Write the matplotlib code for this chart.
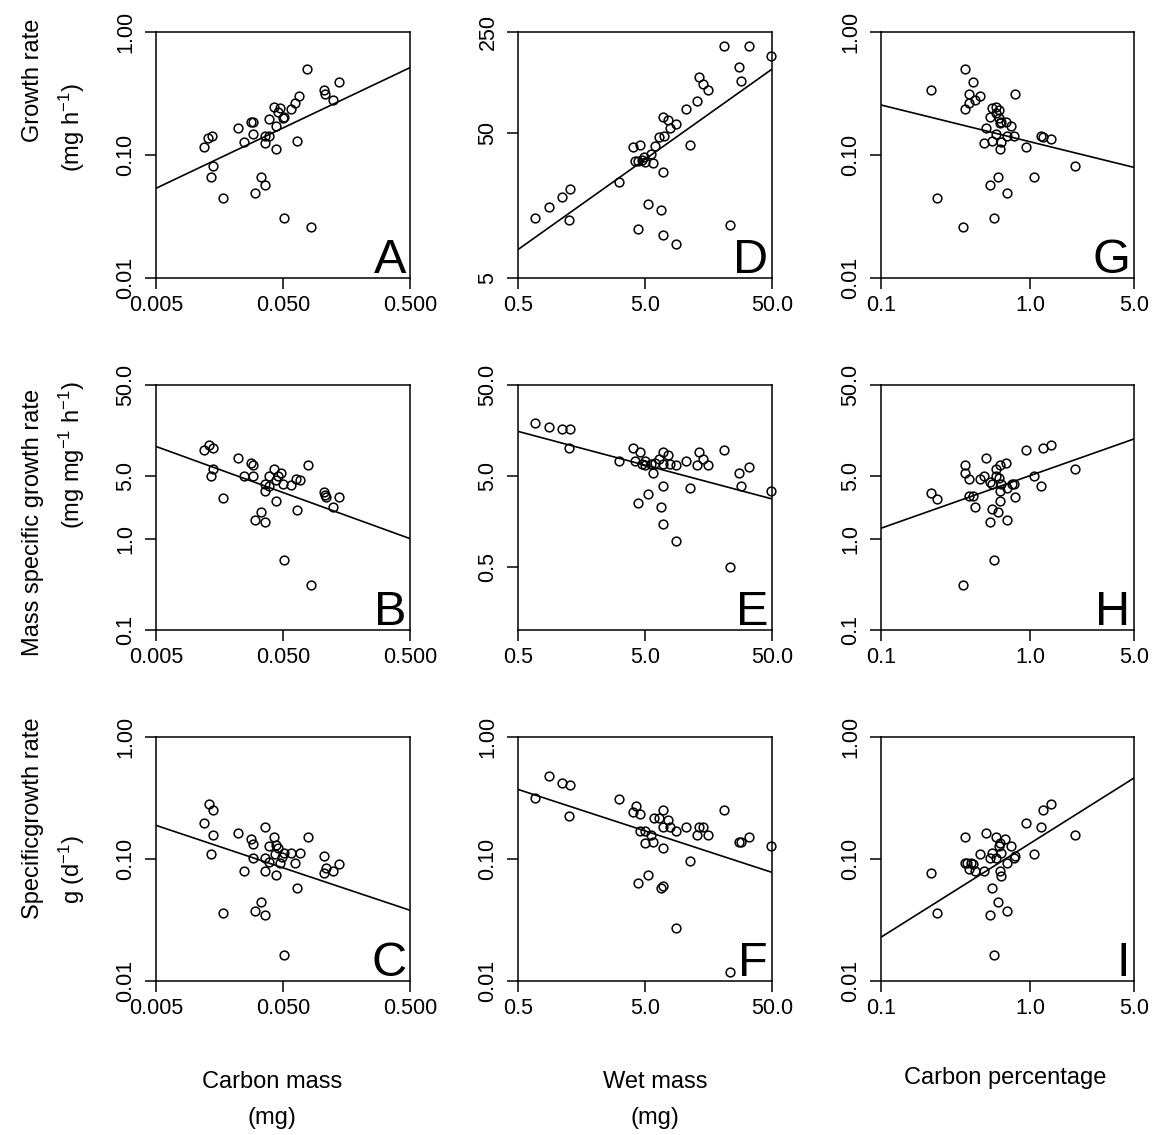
import numpy as np
import matplotlib
matplotlib.use('Agg')
import matplotlib.pyplot as plt
from matplotlib.ticker import FixedLocator, FixedFormatter, NullLocator

plt.rcParams['font.family'] = ['Liberation Sans', 'DejaVu Sans']
plt.rcParams['mathtext.fontset'] = 'custom'
plt.rcParams['mathtext.rm'] = 'Liberation Sans'

# --- data (mg, mg h-1, % etc.) ---
# column 1: carbon mass
A_x = [0.0778, 0.138, 0.105, 0.108, 0.123, 0.0673, 0.0618, 0.0574, 0.0512, 0.0497, 0.0423, 0.0473,
       0.0459, 0.039, 0.028, 0.0288, 0.0221, 0.044, 0.0288, 0.036, 0.0388, 0.0139, 0.0128, 0.012,
       0.0248, 0.036, 0.0644, 0.0438, 0.014, 0.0135, 0.0337, 0.0363, 0.0299, 0.0169, 0.0509, 0.0835]
A_y = [0.50, 0.395, 0.338, 0.311, 0.278, 0.302, 0.265, 0.235, 0.205, 0.199, 0.247, 0.240,
       0.225, 0.195, 0.187, 0.187, 0.167, 0.173, 0.147, 0.143, 0.143, 0.143, 0.137, 0.116,
       0.127, 0.125, 0.131, 0.112, 0.0819, 0.0667, 0.0667, 0.057, 0.0488, 0.045, 0.0306, 0.026]

B_x = [0.0130, 0.0120, 0.014, 0.0221, 0.0278, 0.0292, 0.014, 0.0135, 0.0248, 0.0292, 0.0169, 0.0423,
       0.048, 0.039, 0.0459, 0.044, 0.0503, 0.0578, 0.063, 0.0676, 0.0363, 0.0388, 0.036, 0.0787,
       0.105, 0.107, 0.109, 0.139, 0.123, 0.0438, 0.0644, 0.0337, 0.0299, 0.0363, 0.0509, 0.0835]
B_y = [10.9, 9.59, 10.1, 7.76, 6.95, 6.49, 6.01, 4.99, 5.03, 5.03, 2.81, 6.01,
       5.34, 5.03, 4.91, 4.51, 4.04, 3.97, 4.55, 4.51, 4.04, 3.87, 3.44, 6.55,
       3.35, 3.08, 2.93, 2.95, 2.25, 2.64, 2.12, 2.02, 1.63, 1.54, 0.59, 0.31]

C_x = [0.0130, 0.014, 0.012, 0.014, 0.0221, 0.0278, 0.0292, 0.0363, 0.0423, 0.0388, 0.044, 0.0459,
       0.043, 0.0512, 0.0578, 0.0676, 0.0494, 0.0473, 0.0363, 0.0288, 0.0388, 0.0618, 0.0135,
       0.0248, 0.0363, 0.0438, 0.0787, 0.105, 0.110, 0.105, 0.123, 0.139, 0.0644, 0.0337,
       0.0299, 0.0169, 0.0363, 0.0509]
C_y = [0.284, 0.252, 0.199, 0.157, 0.164, 0.145, 0.133, 0.184, 0.151, 0.129, 0.130, 0.123,
       0.109, 0.111, 0.111, 0.111, 0.103, 0.0936, 0.1016, 0.1016, 0.0942, 0.0936, 0.109,
       0.080, 0.080, 0.0743, 0.151, 0.1055, 0.0842, 0.077, 0.079, 0.0908, 0.0582, 0.0441,
       0.0377, 0.0364, 0.0348, 0.0164]

# column 2: wet mass
D_x = [21.1, 33.0, 48.8, 27.3, 28.5, 13.3, 14.4, 15.6, 12.8, 10.6, 8.7, 7.87, 6.93, 7.59,
       6.41, 7.01, 6.0, 5.54, 4.94, 4.71, 4.43, 4.17, 4.97, 5.78, 4.05, 4.57, 6.93, 11.4,
       3.14, 1.29, 1.11, 0.883, 0.681, 1.25, 5.31, 6.72, 4.40, 6.97, 8.7, 23.5]
D_y = [200, 200, 170, 143, 114, 122, 110, 99, 83.6, 73.6, 58, 53.9, 64.2, 61.8,
       47.2, 47.7, 40.5, 35.8, 34.2, 32.7, 32.2, 31.9, 31.4, 30.9, 40.3, 41.6, 26.9, 41.6,
       22.9, 20.7, 18.1, 15.4, 13.0, 12.5, 16.3, 14.8, 10.9, 9.85, 8.63, 11.7]

E_x = [0.681, 0.883, 1.11, 1.29, 1.25, 3.14, 4.05, 4.57, 4.17, 4.97, 4.76, 4.97, 5.54,
       5.78, 6.0, 6.41, 6.93, 7.59, 6.93, 7.87, 8.7, 10.6, 13.3, 14.4, 12.8, 15.6, 21.1,
       27.3, 33.0, 28.5, 48.8, 6.93, 11.4, 5.31, 4.40, 6.72, 6.93, 8.7, 23.5]
E_y = [19.2, 17.1, 16.3, 16.3, 10.0, 7.31, 10.1, 9.1, 7.31, 7.31, 6.71, 6.49, 6.71,
       5.30, 6.89, 7.69, 9.1, 8.51, 6.71, 6.71, 6.49, 7.31, 9.1, 7.69, 6.49, 6.49, 9.59,
       5.30, 6.22, 3.87, 3.44, 3.87, 3.65, 3.11, 2.51, 2.25, 1.46, 0.949, 0.499]

F_x = [0.681, 0.883, 1.11, 1.29, 1.25, 3.14, 4.25, 4.05, 4.57, 6.93, 5.91, 6.41, 7.59,
       6.93, 7.87, 8.7, 10.6, 13.3, 14.4, 12.8, 15.6, 21.1, 27.3, 28.5, 33.0, 48.8, 4.57,
       4.97, 5.54, 5.78, 4.97, 6.93, 11.4, 5.31, 4.40, 6.72, 6.93, 8.7, 23.5]
F_y = [0.318, 0.475, 0.421, 0.403, 0.224, 0.308, 0.272, 0.243, 0.232, 0.252, 0.216, 0.216,
       0.207, 0.184, 0.183, 0.169, 0.184, 0.184, 0.184, 0.157, 0.157, 0.252, 0.139, 0.139,
       0.151, 0.129, 0.170, 0.169, 0.157, 0.139, 0.134, 0.123, 0.0972, 0.0743, 0.063,
       0.0582, 0.060, 0.0274, 0.0119]

# column 3: carbon percentage
G_x = [0.365, 0.415, 0.215, 0.793, 0.388, 0.46, 0.43, 0.388, 0.365, 0.557, 0.596, 0.618,
       0.537, 0.618, 0.641, 0.686, 0.748, 0.505, 0.596, 0.697, 0.78, 0.557, 0.49, 0.641,
       0.634, 0.94, 1.18, 1.22, 1.39, 2.0, 0.615, 0.537, 0.697, 1.07, 0.239, 0.572, 0.353,
       0.588, 0.634]
G_y = [0.50, 0.395, 0.338, 0.311, 0.311, 0.302, 0.278, 0.265, 0.235, 0.240, 0.247, 0.232,
       0.202, 0.199, 0.187, 0.187, 0.173, 0.167, 0.149, 0.143, 0.142, 0.131, 0.126, 0.128,
       0.111, 0.116, 0.142, 0.141, 0.136, 0.0814, 0.0667, 0.057, 0.0488, 0.0667, 0.045,
       0.0306, 0.026, 0.218, 0.181]

H_x = [0.215, 0.239, 0.365, 0.365, 0.388, 0.388, 0.415, 0.43, 0.46, 0.49, 0.505, 0.537,
       0.557, 0.588, 0.596, 0.634, 0.686, 0.618, 0.641, 0.634, 0.703, 0.76, 0.78, 0.796,
       0.94, 1.22, 1.39, 1.07, 1.18, 2.0, 0.634, 0.557, 0.615, 0.537, 0.697, 0.572, 0.353]
H_y = [3.27, 2.78, 6.55, 5.30, 4.55, 2.98, 2.98, 2.25, 4.55, 5.03, 7.76, 4.32,
       4.04, 5.96, 5.03, 6.49, 6.89, 4.78, 4.11, 3.44, 3.65, 4.04, 4.04, 2.95,
       9.59, 10.1, 10.9, 4.99, 3.84, 5.91, 2.64, 2.14, 2.02, 1.54, 1.63, 0.59, 0.31]

I_x = [0.215, 0.239, 0.365, 0.365, 0.378, 0.388, 0.402, 0.415, 0.43, 0.46, 0.49, 0.505,
       0.537, 0.557, 0.557, 0.596, 0.618, 0.634, 0.641, 0.596, 0.634, 0.641, 0.678, 0.703,
       0.748, 0.78, 0.796, 0.94, 1.07, 1.18, 1.22, 1.39, 2.0, 0.615, 0.537, 0.697, 0.572]
I_y = [0.0766, 0.0364, 0.151, 0.0936, 0.0936, 0.0826, 0.0925, 0.0908, 0.079, 0.109, 0.080,
       0.163, 0.1016, 0.111, 0.0582, 0.151, 0.128, 0.135, 0.111, 0.1016, 0.079, 0.073,
       0.145, 0.0936, 0.129, 0.1016, 0.106, 0.199, 0.109, 0.183, 0.252, 0.284, 0.157,
       0.0441, 0.0348, 0.0377, 0.0164]

# fitted lines, log10(y) = slope * log10(x) + intercept
fit_slope = {'A': 0.4905, 'B': -0.5075, 'C': -0.348,
             'D': 0.623, 'E': -0.372, 'F': -0.340,
             'G': -0.2986, 'H': 0.579, 'I': 0.768}
fit_intercept = {'A': -0.142, 'B': -0.146, 'C': -1.525,
                 'D': 1.083, 'E': 1.076, 'F': -0.532,
                 'G': -0.892, 'H': 0.700, 'I': -0.873}

# axis settings
x_lims = [(0.005, 0.5), (0.5, 50), (0.1, 5)]
x_ticks = [[0.005, 0.05, 0.5], [0.5, 5, 50], [0.1, 1, 5]]
x_ticklabels = [['0.005', '0.050', '0.500'], ['0.5', '5.0', '50.0'], ['0.1', '1.0', '5.0']]

y_lims = {'A': (0.01, 1), 'D': (5, 250), 'G': (0.01, 1),
          'B': (0.1, 50), 'E': (0.1, 50), 'H': (0.1, 50),
          'C': (0.01, 1), 'F': (0.01, 1), 'I': (0.01, 1)}
y_ticks = {'A': [0.01, 0.1, 1], 'D': [5, 50, 250], 'G': [0.01, 0.1, 1],
           'B': [0.1, 1, 5, 50], 'E': [0.5, 5, 50], 'H': [0.1, 1, 5, 50],
           'C': [0.01, 0.1, 1], 'F': [0.01, 0.1, 1], 'I': [0.01, 0.1, 1]}
y_ticklabels = {'A': ['0.01', '0.10', '1.00'], 'D': ['5', '50', '250'], 'G': ['0.01', '0.10', '1.00'],
                'B': ['0.1', '1.0', '5.0', '50.0'], 'E': ['0.5', '5.0', '50.0'],
                'H': ['0.1', '1.0', '5.0', '50.0'],
                'C': ['0.01', '0.10', '1.00'], 'F': ['0.01', '0.10', '1.00'], 'I': ['0.01', '0.10', '1.00']}

data = {'A': (A_x, A_y), 'B': (B_x, B_y), 'C': (C_x, C_y),
        'D': (D_x, D_y), 'E': (E_x, E_y), 'F': (F_x, F_y),
        'G': (G_x, G_y), 'H': (H_x, H_y), 'I': (I_x, I_y)}
grid = [['A', 'D', 'G'], ['B', 'E', 'H'], ['C', 'F', 'I']]

W, H = 1155, 1135
fig = plt.figure(figsize=(W / 100, H / 100), dpi=100)

col_left = [156, 518, 881]
col_w = [254, 254, 253]
row_top = [32, 385, 737]
row_h = [246, 245, 244]

for r in range(3):
    for c in range(3):
        key = grid[r][c]
        ax = fig.add_axes([col_left[c] / W, 1 - (row_top[r] + row_h[r]) / H,
                           col_w[c] / W, row_h[r] / H])
        ax.set_xscale('log')
        ax.set_yscale('log')
        xs, ys = data[key]
        ax.plot(xs, ys, 'o', mfc='none', mec='black', ms=6.3, mew=1.1, clip_on=False)
        lx = np.array(x_lims[c])
        ly = 10 ** (fit_slope[key] * np.log10(lx) + fit_intercept[key])
        ax.plot(lx, ly, color='black', lw=1.2)
        ax.set_xlim(x_lims[c])
        ax.set_ylim(y_lims[key])

        ax.xaxis.set_major_locator(FixedLocator(x_ticks[c]))
        ax.xaxis.set_major_formatter(FixedFormatter(x_ticklabels[c]))
        ax.yaxis.set_major_locator(FixedLocator(y_ticks[key]))
        ax.yaxis.set_major_formatter(FixedFormatter(y_ticklabels[key]))
        ax.xaxis.set_minor_locator(NullLocator())
        ax.yaxis.set_minor_locator(NullLocator())
        ax.tick_params(axis='both', direction='out', length=8, width=1.1, color='black')
        ax.tick_params(axis='x', labelsize=15.5, pad=4.5)
        ax.tick_params(axis='y', labelsize=15.5, pad=6, labelrotation=90)
        for lbl in ax.get_yticklabels():
            lbl.set_va('center')
        for sp in ax.spines.values():
            sp.set_linewidth(1.1)

        ax.text(0.985, 0.02, key, transform=ax.transAxes, ha='right', va='baseline',
                fontsize=35)


def ftext(px, py, s, **kw):
    fig.text(px / W, 1 - py / H, s, ha='center', va='center', fontsize=17, **kw)


# row labels
ftext(33, 80, 'Growth rate', rotation=90)
ftext(72, 128, r'(mg h$\mathregular{^{-1}}$)', rotation=90)
ftext(33, 522, 'Mass specific growth rate', rotation=90)
ftext(72, 455, r'(mg mg$\mathregular{^{-1}}$ h$\mathregular{^{-1}}$)', rotation=90)
ftext(33, 818, 'Specificgrowth rate', rotation=90)
ftext(72, 870, r'g (d$\mathregular{^{-1}}$)', rotation=90)

# column labels
ftext(272, 1082, 'Carbon mass')
ftext(272, 1118, '(mg)')
ftext(655, 1082, 'Wet mass')
ftext(655, 1118, '(mg)')
ftext(1005, 1078, 'Carbon percentage')

fig.savefig('out.png', dpi=100)
